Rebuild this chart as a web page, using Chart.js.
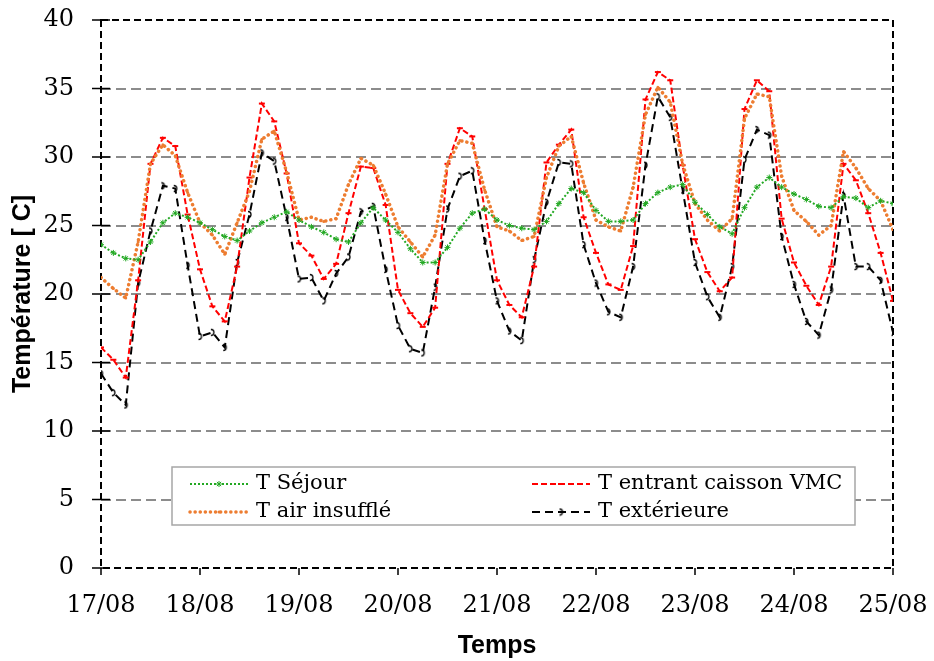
<!DOCTYPE html>
<html>
<head>
<meta charset="utf-8">
<script src="https://cdn.jsdelivr.net/npm/chart.js@4.4.1/dist/chart.umd.min.js"></script>
<style>
  html, body { margin: 0; padding: 0; background: #fff; }
  #wrap { width: 934px; height: 661px; }
</style>
</head>
<body>
<div id="wrap"><canvas id="tempChart" width="934" height="661"></canvas></div>
<script>
// heures depuis le 17/08 00:00, pas de 3 h
const hours = [0, 3, 6, 9, 12, 15, 18, 21, 24, 27, 30, 33, 36, 39, 42, 45,
  48, 51, 54, 57, 60, 63, 66, 69, 72, 75, 78, 81, 84, 87, 90, 93,
  96, 99, 102, 105, 108, 111, 114, 117, 120, 123, 126, 129, 132, 135, 138, 141,
  144, 147, 150, 153, 156, 159, 162, 165, 168, 171, 174, 177, 180, 183, 186, 189, 192];

const dayLabels = ['17/08', '18/08', '19/08', '20/08', '21/08', '22/08', '23/08', '24/08', '25/08'];

const tSejour = [23.6, 23.0, 22.6, 22.5, 23.8, 25.2, 25.9, 25.6,
  25.2, 24.7, 24.2, 23.9, 24.6, 25.2, 25.6, 26.0,
  25.4, 24.9, 24.5, 24.0, 23.8, 25.2, 26.3, 25.4,
  24.5, 23.3, 22.3, 22.3, 23.4, 24.8, 25.9, 26.2,
  25.4, 25.0, 24.8, 24.7, 25.3, 26.6, 27.7, 27.4,
  26.1, 25.3, 25.3, 25.4, 26.6, 27.4, 27.8, 28.0,
  26.7, 25.8, 24.9, 24.4, 26.3, 27.8, 28.5, 27.8,
  27.3, 26.9, 26.4, 26.3, 27.1, 27.0, 26.3, 26.8,
  26.6];

const tAirInsuffle = [21.2, 20.4, 19.7, 23.8, 29.5, 30.9, 30.1, 27.4,
  25.2, 24.3, 22.9, 25.2, 27.5, 31.3, 31.9, 28.9,
  25.4, 25.6, 25.3, 25.5, 28.0, 29.9, 29.4, 27.3,
  24.9, 23.8, 22.7, 24.3, 29.5, 31.2, 31.0, 27.6,
  24.9, 24.6, 23.9, 24.2, 28.5, 30.8, 31.5, 28.1,
  25.4, 24.9, 24.6, 27.8, 33.1, 35.1, 34.0, 29.5,
  26.6, 25.4, 24.6, 25.5, 32.8, 34.6, 34.4, 28.6,
  26.1, 25.3, 24.3, 25.0, 30.4, 29.2, 27.7, 26.8,
  24.7];

const tEntrantVmc = [16.1, 15.2, 13.9, 21.0, 29.5, 31.4, 30.8, 25.8,
  21.8, 19.1, 18.0, 22.0, 28.5, 33.9, 32.6, 28.8,
  23.7, 22.8, 21.1, 22.2, 25.9, 29.3, 29.2, 26.5,
  20.3, 18.6, 17.6, 19.0, 29.5, 32.1, 31.5, 26.2,
  21.0, 19.2, 18.3, 22.0, 29.6, 30.9, 32.0, 25.6,
  23.0, 20.7, 20.3, 23.5, 34.2, 36.2, 35.6, 29.4,
  24.0, 21.6, 20.2, 21.2, 33.5, 35.6, 34.8, 25.5,
  22.3, 20.6, 19.2, 22.0, 29.5, 28.3, 25.9, 23.0,
  19.5];

const tExterieure = [14.2, 12.8, 11.9, 20.8, 24.6, 27.9, 27.7, 22.1,
  16.9, 17.2, 16.1, 22.3, 25.8, 30.3, 29.7, 25.6,
  21.1, 21.2, 19.5, 21.5, 22.7, 26.0, 26.4, 21.8,
  17.7, 16.0, 15.7, 20.5, 26.2, 28.6, 29.0, 23.9,
  19.5, 17.3, 16.6, 22.5, 26.7, 29.6, 29.5, 23.6,
  20.8, 18.7, 18.3, 22.0, 29.4, 34.4, 32.9, 27.6,
  22.3, 19.8, 18.3, 22.0, 29.8, 32.0, 31.6, 24.2,
  20.7, 18.0, 17.0, 20.3, 27.2, 22.0, 22.0, 21.0,
  17.2];

const toPoints = vals => hours.map((h, i) => ({ x: h, y: vals[i] }));

// petit marqueur en crochet pour la température extérieure
const hookMark = document.createElement('canvas');
hookMark.width = 7; hookMark.height = 9;
(function () {
  const c = hookMark.getContext('2d');
  c.strokeStyle = '#000';
  c.lineWidth = 1.3;
  c.beginPath();
  c.arc(2, 4.5, 3, -Math.PI / 2, Math.PI / 2);
  c.stroke();
})();

const GREEN = '#22a822';
const ORANGE = '#ed7d31';
const RED = '#ff0000';

const datasets = [
  {
    label: 'T Séjour', data: toPoints(tSejour),
    borderColor: GREEN, backgroundColor: GREEN,
    borderWidth: 2, borderDash: [2, 2],
    pointStyle: 'star', pointRadius: 3, pointBorderWidth: 1
  },
  {
    label: 'T air insufflé', data: toPoints(tAirInsuffle),
    borderColor: ORANGE, backgroundColor: ORANGE,
    borderWidth: 3.5, borderDash: [0.1, 5], borderCapStyle: 'round',
    pointStyle: 'circle', pointRadius: 1.5, pointBorderWidth: 0
  },
  {
    label: 'T entrant caisson VMC', data: toPoints(tEntrantVmc),
    borderColor: RED, backgroundColor: RED,
    borderWidth: 2, borderDash: [6, 3],
    pointStyle: 'line', pointRadius: 3, pointBorderWidth: 2
  },
  {
    label: 'T extérieure', data: toPoints(tExterieure),
    borderColor: '#000', backgroundColor: '#000',
    borderWidth: 2, borderDash: [8, 5],
    pointStyle: hookMark, pointRadius: 3
  }
];

// cadre pointillé + graduations
const framePlugin = {
  id: 'frame',
  beforeDatasetsDraw(chart) {
    const { ctx, chartArea: a, scales } = chart;
    ctx.save();
    ctx.strokeStyle = '#000';
    ctx.lineWidth = 2;
    ctx.setLineDash([7, 4]);
    ctx.strokeRect(a.left, a.top, a.right - a.left, a.bottom - a.top);
    ctx.setLineDash([]);
    ctx.lineWidth = 1.5;
    ctx.beginPath();
    scales.y.ticks.forEach(t => {
      const y = scales.y.getPixelForValue(t.value);
      ctx.moveTo(a.left - 9, y);
      ctx.lineTo(a.left + 9, y);
    });
    scales.x.ticks.forEach(t => {
      const x = scales.x.getPixelForValue(t.value);
      ctx.moveTo(x, a.bottom);
      ctx.lineTo(x, a.bottom + 7);
    });
    ctx.stroke();
    ctx.restore();
  }
};

function drawMark(ctx, ds, x, y) {
  if (ds.pointStyle instanceof HTMLCanvasElement) {
    ctx.drawImage(ds.pointStyle, x - ds.pointStyle.width / 2, y - ds.pointStyle.height / 2);
    return;
  }
  ctx.strokeStyle = ds.borderColor;
  ctx.fillStyle = ds.backgroundColor;
  ctx.lineWidth = ds.pointBorderWidth || 1;
  Chart.helpers.drawPoint(ctx, {
    pointStyle: ds.pointStyle, radius: ds.pointRadius, rotation: 0,
    borderWidth: ds.pointBorderWidth
  }, x, y);
}

// légende encadrée dans la zone du graphique
const boxLegend = {
  id: 'boxLegend',
  afterDatasetsDraw(chart) {
    const { ctx, chartArea: a } = chart;
    const bx = a.left + 71, by = a.top + 447, bw = 683, bh = 58;
    ctx.save();
    ctx.fillStyle = '#fff';
    ctx.fillRect(bx, by, bw, bh);
    ctx.strokeStyle = '#a6a6a6';
    ctx.lineWidth = 1.5;
    ctx.strokeRect(bx, by, bw, bh);
    chart.data.datasets.forEach((ds, i) => {
      const x0 = bx + 18 + Math.floor(i / 2) * 342;
      const y = by + 17 + (i % 2) * 28;
      ctx.save();
      ctx.strokeStyle = ds.borderColor;
      ctx.lineWidth = ds.borderWidth;
      ctx.lineCap = ds.borderCapStyle || 'butt';
      ctx.setLineDash(ds.borderDash);
      ctx.beginPath();
      ctx.moveTo(x0, y);
      ctx.lineTo(x0 + 58, y);
      ctx.stroke();
      ctx.setLineDash([]);
      drawMark(ctx, ds, x0 + 29, y);
      ctx.restore();
      ctx.fillStyle = '#000';
      ctx.font = '21px "DejaVu Serif"';
      ctx.textBaseline = 'middle';
      ctx.textAlign = 'left';
      ctx.fillText(ds.label, x0 + 66, y);
    });
    ctx.restore();
  }
};

const tickFont = { family: '"DejaVu Serif"', size: 24 };
const titleFont = { family: '"Liberation Sans", Arial', size: 25, weight: 'bold' };

new Chart(document.getElementById('tempChart'), {
  type: 'line',
  data: { datasets },
  options: {
    responsive: false,
    animation: false,
    layout: { padding: { top: 20, right: 41, left: 0, bottom: 0 } },
    elements: { line: { tension: 0 } },
    plugins: { legend: { display: false }, tooltip: { enabled: false } },
    scales: {
      x: {
        type: 'linear', min: 0, max: 192,
        ticks: {
          stepSize: 24, autoSkip: false, maxRotation: 0, padding: 23,
          color: '#000', font: tickFont,
          callback: v => dayLabels[v / 24]
        },
        grid: { display: false, drawTicks: false },
        border: { display: false },
        title: { display: true, text: 'Temps', color: '#000', font: titleFont, padding: { top: 0, bottom: 0 } },
        afterFit: s => { s.height = 93; s.paddingLeft = 0; s.paddingRight = 0; }
      },
      y: {
        min: 0, max: 40,
        ticks: { stepSize: 5, padding: 27, color: '#000', font: tickFont },
        grid: {
          drawTicks: false, lineWidth: 2,
          color: c => (c.tick.value === 0 || c.tick.value === 40) ? 'rgba(0,0,0,0)' : '#8c8c8c'
        },
        border: { display: false, dash: [10, 5] },
        title: { display: true, text: 'Température [ C]', color: '#000', font: titleFont, padding: { top: 8, bottom: 0 } },
        afterFit: s => { s.width = 101; s.paddingTop = 0; s.paddingBottom = 0; }
      }
    }
  },
  plugins: [framePlugin, boxLegend]
});
</script>
</body>
</html>
